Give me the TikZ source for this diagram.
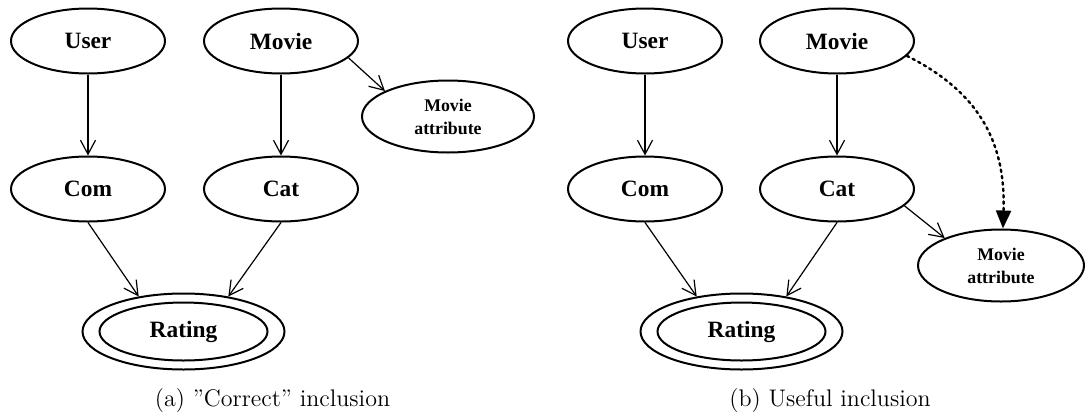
\documentclass[tikz,border=0pt]{standalone}
\usepackage{fontspec}
\newfontfamily\nodefont{Liberation Serif}
\usetikzlibrary{shapes.geometric,arrows.meta}
\begin{document}
\begin{tikzpicture}[x=0.5pt,y=-0.5pt,
  var/.style={ellipse,draw,line width=1pt,inner sep=0pt,
    minimum width=77pt,minimum height=32.5pt,
    font=\nodefont\bfseries\fontsize{11.7}{13}\selectfont},
  attr/.style={ellipse,draw,line width=1pt,inner sep=0pt,
    minimum height=36pt,align=center,
    font=\nodefont\bfseries\fontsize{8.9}{11.5}\selectfont},
  ringout/.style={ellipse,draw,line width=1pt,inner sep=0pt,
    minimum width=101pt,minimum height=38pt},
  ringin/.style={ellipse,draw,line width=1pt,inner sep=0pt,
    minimum width=84pt,minimum height=29pt,
    font=\nodefont\bfseries\fontsize{11.7}{13}\selectfont},
  link/.style={line width=0.6pt,-{Straight Barb[length=7pt,width=7.5pt]}},
  hint/.style={line width=1.2pt,dotted,line cap=round,
    -{Triangle[length=9pt,width=7.5pt]}},
  subcap/.style={anchor=base,font=\fontsize{12}{14}\selectfont}]
\useasboundingbox (0,0) rectangle (1086,418);

% (a) the attribute hangs off Movie
\node[var] (userA)  at (88,41)  {User};
\node[var] (movieA) at (281,41) {Movie};
\node[var] (comA)   at (88,189) {Com};
\node[var] (catA)   at (281,189) {Cat};
\node[attr,minimum width=86pt] (maA) at (448,116.5) {Movie\\attribute};
\node[ringout] (ratingA) at (183.5,331.5) {};
\node[ringin]  (ratingAin) at (183.5,331.5) {Rating};

\draw[link] (userA) -- (comA);
\draw[link] (movieA) -- (catA);
\draw[link] (movieA.-14) -- (maA.158);
\draw[link] (comA.south) -- (ratingA.142);
\draw[link] (catA.south) -- (ratingA.38);

\node[subcap] (capA) at (272.5,406) {(a) ''Correct'' inclusion};

% (b) the attribute hangs off Cat
\node[var] (userB)  at (645,41)  {User};
\node[var] (movieB) at (837,41)  {Movie};
\node[var] (comB)   at (645,189) {Com};
\node[var] (catB)   at (837,189) {Cat};
\node[attr,minimum width=83pt] (maB) at (1001,265.5) {Movie\\attribute};
\node[ringout] (ratingB) at (741.5,331.5) {};
\node[ringin]  (ratingBin) at (741.5,331.5) {Rating};

\draw[link] (userB) -- (comB);
\draw[link] (movieB) -- (catB);
\draw[link] (catB.-14) -- (maB.154);
\draw[link] (comB.south) -- (ratingB.142);
\draw[link] (catB.south) -- (ratingB.38);
\draw[hint] (movieB.-12) .. controls (975,90) and (1006,138) .. (maB.87);

\node[subcap] (capB) at (830,406) {(b) Useful inclusion};
\end{tikzpicture}
\end{document}
